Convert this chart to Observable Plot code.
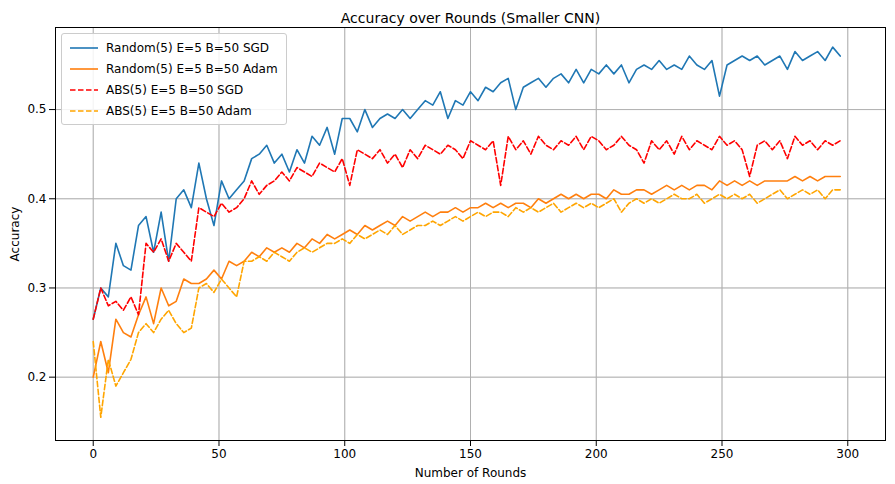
<!DOCTYPE html>
<html><head><meta charset="utf-8">
<script src="https://cdn.jsdelivr.net/npm/d3@7"></script>
<script src="https://cdn.jsdelivr.net/npm/@observablehq/plot@0.6"></script>
<style>
body{margin:0;background:#fff;font-family:"DejaVu Sans",sans-serif}
#wrap{position:relative;width:895px;height:484px}
#legend{position:absolute;left:61px;top:33px;background:rgba(255,255,255,0.85);border:1px solid #ccc;border-radius:3px;padding:3px 8px;font-size:12px}
#legend div{display:flex;align-items:center;height:21px}
#legend svg{margin-right:8px}
</style></head><body>
<div id="wrap"><div id="chart"></div><div id="legend"></div></div>
<script>
const rounds = d3.range(0, 300, 3);
const randomSgd = [0.265,0.30,0.29,0.35,0.325,0.32,0.37,0.38,0.34,0.385,0.33,0.40,0.41,0.39,0.44,0.40,0.37,0.42,0.40,0.41,0.42,0.445,0.45,0.46,0.44,0.45,0.43,0.455,0.44,0.47,0.46,0.48,0.45,0.49,0.49,0.475,0.50,0.48,0.49,0.495,0.49,0.50,0.49,0.50,0.51,0.505,0.52,0.49,0.51,0.505,0.52,0.51,0.525,0.52,0.53,0.535,0.50,0.525,0.53,0.535,0.525,0.535,0.54,0.53,0.545,0.53,0.545,0.54,0.55,0.54,0.55,0.53,0.545,0.55,0.545,0.555,0.545,0.55,0.545,0.56,0.55,0.545,0.555,0.515,0.55,0.555,0.56,0.555,0.56,0.55,0.555,0.56,0.545,0.565,0.555,0.56,0.565,0.555,0.57,0.56];
const randomAdam = [0.20,0.24,0.205,0.265,0.25,0.245,0.27,0.29,0.26,0.30,0.28,0.285,0.31,0.305,0.305,0.31,0.32,0.31,0.33,0.325,0.33,0.34,0.335,0.345,0.34,0.345,0.34,0.35,0.345,0.355,0.35,0.36,0.355,0.36,0.365,0.36,0.37,0.365,0.37,0.375,0.37,0.38,0.375,0.38,0.385,0.38,0.385,0.385,0.39,0.385,0.39,0.39,0.395,0.39,0.395,0.39,0.395,0.395,0.39,0.40,0.395,0.40,0.405,0.40,0.405,0.40,0.405,0.405,0.40,0.41,0.405,0.405,0.41,0.41,0.405,0.41,0.415,0.41,0.415,0.41,0.415,0.415,0.41,0.42,0.415,0.42,0.415,0.42,0.415,0.42,0.42,0.42,0.42,0.425,0.42,0.425,0.42,0.425,0.425,0.425];
const absSgd = [0.265,0.30,0.28,0.285,0.275,0.29,0.27,0.35,0.34,0.355,0.33,0.35,0.34,0.33,0.39,0.385,0.38,0.395,0.385,0.39,0.40,0.42,0.405,0.415,0.42,0.43,0.42,0.435,0.43,0.425,0.44,0.435,0.43,0.445,0.415,0.455,0.45,0.445,0.455,0.44,0.45,0.435,0.455,0.445,0.46,0.455,0.45,0.46,0.455,0.445,0.465,0.46,0.455,0.465,0.415,0.47,0.455,0.465,0.45,0.47,0.46,0.455,0.465,0.46,0.47,0.455,0.47,0.465,0.455,0.46,0.47,0.46,0.455,0.44,0.465,0.455,0.465,0.45,0.47,0.455,0.465,0.46,0.455,0.47,0.46,0.465,0.455,0.425,0.46,0.465,0.455,0.465,0.445,0.47,0.46,0.465,0.455,0.465,0.46,0.465];
const absAdam = [0.24,0.155,0.22,0.19,0.205,0.22,0.25,0.26,0.25,0.265,0.275,0.26,0.25,0.255,0.30,0.305,0.295,0.31,0.30,0.29,0.33,0.33,0.335,0.33,0.34,0.335,0.33,0.34,0.345,0.34,0.345,0.35,0.35,0.355,0.35,0.36,0.355,0.36,0.365,0.36,0.37,0.36,0.365,0.37,0.37,0.375,0.37,0.375,0.38,0.375,0.38,0.385,0.38,0.385,0.385,0.38,0.39,0.385,0.39,0.385,0.39,0.395,0.385,0.39,0.395,0.39,0.395,0.39,0.395,0.40,0.385,0.395,0.40,0.395,0.40,0.395,0.40,0.405,0.40,0.40,0.405,0.395,0.40,0.405,0.40,0.405,0.40,0.405,0.395,0.40,0.405,0.41,0.40,0.405,0.41,0.405,0.41,0.40,0.41,0.41];

const series = [
  {name: "Random(5) E=5 B=50 SGD", values: randomSgd, color: "#1f77b4", dash: null},
  {name: "Random(5) E=5 B=50 Adam", values: randomAdam, color: "#ff7f0e", dash: null},
  {name: "ABS(5) E=5 B=50 SGD", values: absSgd, color: "#ff0000", dash: "5.5,2.5"},
  {name: "ABS(5) E=5 B=50 Adam", values: absAdam, color: "#ffa500", dash: "5.5,2.5"}
];

const chart = Plot.plot({
  width: 895, height: 484,
  marginLeft: 55, marginRight: 10, marginTop: 27, marginBottom: 44,
  style: {fontFamily: "DejaVu Sans, sans-serif", fontSize: "12px", color: "#000"},
  x: {domain: [-15, 315], ticks: [0,50,100,150,200,250,300], grid: true, label: "Number of Rounds", labelAnchor: "center", labelArrow: "none", labelOffset: 36},
  y: {domain: [0.129, 0.592], ticks: [0.2,0.3,0.4,0.5], tickFormat: d3.format(".1f"), grid: true, label: "Accuracy", labelAnchor: "center", labelArrow: "none", labelOffset: 45},
  marks: [
    Plot.gridX([0,50,100,150,200,250,300], {stroke: "#b0b0b0", strokeOpacity: 1}),
    Plot.gridY([0.2,0.3,0.4,0.5], {stroke: "#b0b0b0", strokeOpacity: 1}),
    ...series.map(s => Plot.line(s.values, {x: (d, i) => rounds[i], y: d => d, stroke: s.color, strokeWidth: 1.6, strokeDasharray: s.dash})),
    Plot.frame({stroke: "#000"}),
    Plot.text(["Accuracy over Rounds (Smaller CNN)"], {frameAnchor: "top", dy: -14, fontSize: 14})
  ]
});
d3.select("#chart").append(() => chart);

const leg = d3.select("#legend");
series.forEach(s => {
  const row = leg.append("div");
  row.append("svg").attr("width", 28).attr("height", 10).append("line")
    .attr("x1", 0).attr("x2", 28).attr("y1", 5).attr("y2", 5)
    .attr("stroke", s.color).attr("stroke-width", 1.6).attr("stroke-dasharray", s.dash);
  row.append("span").text(s.name);
});
</script>
</body></html>
